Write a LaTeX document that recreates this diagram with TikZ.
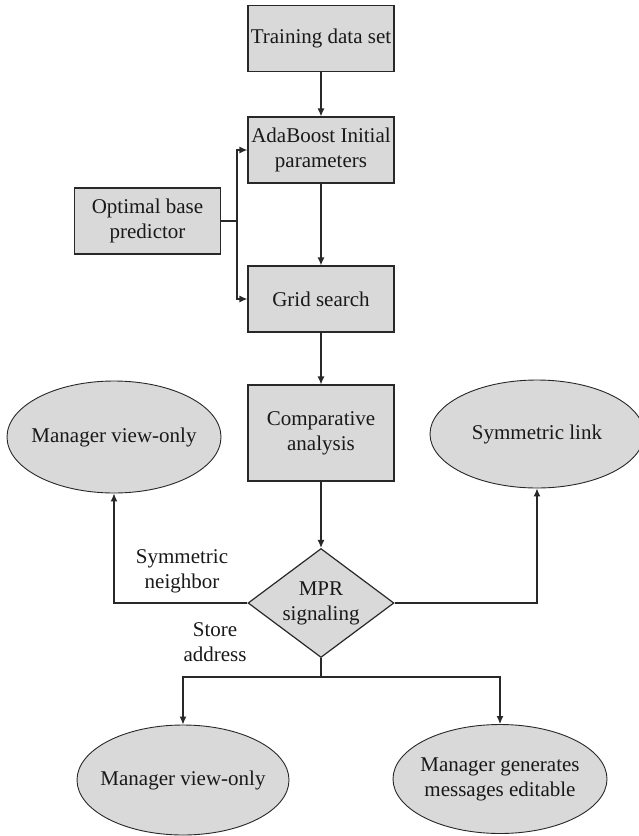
\documentclass[tikz,border=0pt]{standalone}
\usepackage{fontspec}
\setmainfont{Liberation Serif}
\usetikzlibrary{arrows.meta,shapes.geometric}
\definecolor{boxfill}{RGB}{217,217,217}
\definecolor{edge}{RGB}{40,40,40}
\begin{document}
\begin{tikzpicture}[x=1pt,y=-1pt,
  every node/.style={font=\fontsize{21}{25}\selectfont, text=black!90},
  rbox/.style={draw=edge, fill=boxfill, line width=1.2pt, align=center, inner sep=0pt, minimum width=146pt, minimum height=66pt},
  oval/.style={ellipse, draw=edge, fill=boxfill, line width=0.9pt, align=center, inner xsep=-60pt, inner ysep=-30pt},
  dia/.style={diamond, draw=edge, fill=boxfill, line width=1.2pt, align=center, inner xsep=-30pt, inner ysep=-20pt, minimum width=146pt, minimum height=109pt},
  lbl/.style={align=center, inner sep=0pt},
  conn/.style={draw=edge, line width=1.2pt},
  arr/.style={conn, -{Latex[length=8pt,width=7pt]}}
]
\useasboundingbox (0,0) rectangle (639,836);
\node[rbox] (train) at (321,38.5) {Training data set};
\node[rbox] (ada) at (321,150) {AdaBoost Initial\\parameters};
\node[rbox] (opt) at (147.5,221) {Optimal base\\predictor};
\node[rbox] (grid) at (321,299) {Grid search};
\node[rbox, minimum height=96pt] (comp) at (321,433) {Comparative\\analysis};
\node[dia] (mpr) at (321,603) {MPR\\signaling};
\node[oval, minimum width=214pt, minimum height=112pt] (L1) at (114,437) {Manager view-only};
\node[oval, minimum width=214pt, minimum height=108pt] (R1) at (537,434) {Symmetric link};
\node[oval, minimum width=212pt, minimum height=110pt] (B1) at (183,780) {Manager view-only};
\node[oval, minimum width=214pt, minimum height=109pt] (B2) at (500,779) {Manager generates\\messages editable};
\node[lbl] (symn) at (182,571) {Symmetric\\neighbor};
\node[lbl] (stad) at (215,642) {Store\\address};
\coordinate (j) at (237,221);
\coordinate (b) at (321,677);
\draw[arr] (train) -- (ada);
\draw[arr] (ada) -- (grid);
\draw[arr] (grid) -- (comp);
\draw[arr] (comp) -- (mpr);
\draw[conn] (opt.east) -- (j);
\draw[arr] (j) |- (ada.west);
\draw[arr] (j) |- (grid.west);
\draw[arr] (mpr.west) -| (L1.south);
\draw[arr] (mpr.east) -| (R1.south);
\draw[conn] (mpr.south) -- (b);
\draw[arr] (b) -| (B1.north);
\draw[arr] (b) -| (B2.north);
\end{tikzpicture}
\end{document}
